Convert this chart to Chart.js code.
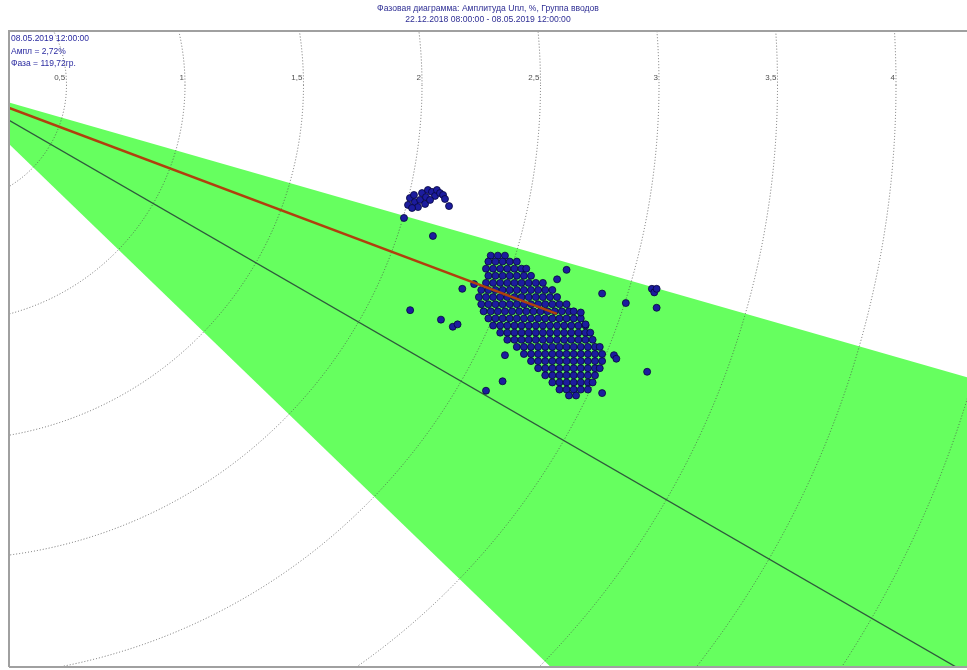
<!DOCTYPE html>
<html>
<head>
<meta charset="utf-8">
<title>Фазовая диаграмма</title>
<script src="https://cdn.jsdelivr.net/npm/chart.js@4.4.1/dist/chart.umd.min.js"></script>
<style>
  html, body { margin: 0; padding: 0; background: #fff; }
  #wrap { width: 967px; height: 670px; }
</style>
</head>
<body>
<div id="wrap"><canvas id="phaseChart" width="967" height="670"></canvas></div>
<script>
// Заголовок и подписи
const titleLines = ['Фазовая диаграмма: Амплитуда Uпл, %, Группа вводов', '22.12.2018 08:00:00 - 08.05.2019 12:00:00'];
const infoLines = ['08.05.2019 12:00:00', 'Ампл = 2,72%', 'Фаза = 119,72гр.'];

// Окружности сетки (амплитуда, %) и подписи к ним
const gridRadii = [0.5, 1, 1.5, 2, 2.5, 3, 3.5, 4, 4.5];
const gridLabels = ['0,5', '1', '1,5', '2', '2,5', '3', '3,5', '4'];

// Допустимый сектор и опорная фаза (градусы)
const sectorPhase = [106, 134];
const refPhase = 120;

// Вектор (красная линия)
const vectorAmp = 2.745;
const vectorPhase = 110.6;

// Основное облако точек: [Im, [Re ...]]
const clusterRows = [
  [-0.72, [2.29, 2.32, 2.35]],
  [-0.745, [2.28, 2.31, 2.34, 2.37, 2.40]],
  [-0.775, [2.27, 2.30, 2.33, 2.36, 2.39, 2.42, 2.44]],
  [-0.805, [2.28, 2.31, 2.34, 2.37, 2.40, 2.43, 2.46]],
  [-0.835, [2.27, 2.30, 2.33, 2.36, 2.39, 2.42, 2.45, 2.48, 2.51]],
  [-0.865, [2.25, 2.28, 2.31, 2.34, 2.37, 2.40, 2.43, 2.46, 2.49, 2.52, 2.55]],
  [-0.895, [2.24, 2.27, 2.30, 2.33, 2.36, 2.39, 2.42, 2.45, 2.48, 2.51, 2.54, 2.57]],
  [-0.925, [2.25, 2.28, 2.31, 2.34, 2.37, 2.40, 2.43, 2.46, 2.49, 2.52, 2.55, 2.58, 2.61]],
  [-0.955, [2.26, 2.29, 2.32, 2.35, 2.38, 2.41, 2.44, 2.47, 2.50, 2.53, 2.56, 2.59, 2.62, 2.64]],
  [-0.985, [2.28, 2.31, 2.34, 2.37, 2.40, 2.43, 2.46, 2.49, 2.52, 2.55, 2.58, 2.61, 2.64, 2.67]],
  [-1.015, [2.30, 2.33, 2.36, 2.39, 2.42, 2.45, 2.48, 2.51, 2.54, 2.57, 2.60, 2.63, 2.66, 2.69]],
  [-1.045, [2.33, 2.36, 2.39, 2.42, 2.45, 2.48, 2.51, 2.54, 2.57, 2.60, 2.63, 2.66, 2.69, 2.71]],
  [-1.075, [2.36, 2.39, 2.42, 2.45, 2.48, 2.51, 2.54, 2.57, 2.60, 2.63, 2.66, 2.69, 2.72]],
  [-1.105, [2.40, 2.43, 2.46, 2.49, 2.52, 2.55, 2.58, 2.61, 2.64, 2.67, 2.70, 2.73, 2.75]],
  [-1.135, [2.43, 2.46, 2.49, 2.52, 2.55, 2.58, 2.61, 2.64, 2.67, 2.70, 2.73, 2.76]],
  [-1.165, [2.46, 2.49, 2.52, 2.55, 2.58, 2.61, 2.64, 2.67, 2.70, 2.73, 2.76]],
  [-1.195, [2.49, 2.52, 2.55, 2.58, 2.61, 2.64, 2.67, 2.70, 2.73, 2.75]],
  [-1.225, [2.52, 2.55, 2.58, 2.61, 2.64, 2.67, 2.70, 2.73]],
  [-1.255, [2.55, 2.58, 2.61, 2.64, 2.67, 2.70, 2.72]],
  [-1.285, [2.58, 2.61, 2.64, 2.67, 2.70]],
  [-1.31, [2.62, 2.65]]
];

// Верхняя группа точек [Re, Im]
const upperGroup = [
  [1.941, -0.506], [1.949, -0.477], [1.970, -0.494], [1.966, -0.464], [1.992, -0.485],
  [2.000, -0.456], [2.017, -0.473], [2.025, -0.443], [2.042, -0.451], [2.055, -0.468],
  [2.063, -0.443], [2.076, -0.456], [2.089, -0.464], [1.983, -0.515], [2.013, -0.502],
  [2.034, -0.485], [1.958, -0.519], [2.097, -0.481], [2.114, -0.511], [1.924, -0.561],
  [2.046, -0.637]
];

// Одиночные точки [Re, Im]
const strayPoints = [
  [2.17, -0.86], [2.22, -0.84], [2.13, -1.02], [2.15, -1.01], [2.08, -0.99], [1.95, -0.95],
  [2.61, -0.78], [2.57, -0.82], [2.76, -0.88], [2.86, -0.92], [2.97, -0.86], [2.98, -0.875],
  [2.99, -0.86], [2.99, -0.94], [2.95, -1.21], [2.67, -0.96], [2.69, -1.01], [2.81, -1.14],
  [2.82, -1.155], [2.34, -1.25], [2.27, -1.29], [2.35, -1.14], [2.76, -1.30]
];

// Геометрия: центр диаграммы в пикселях и масштаб
const CENTER_PX = { x: -52, y: 85 };
const PX_PER_UNIT = 237;
const AREA = { left: 9, top: 31, right: 967, bottom: 667 };

// фаза отсчитывается по часовой стрелке от вертикали
function polarToXY(amp, phase) {
  const a = (90 - phase) * Math.PI / 180;
  return { x: amp * Math.cos(a), y: amp * Math.sin(a) };
}

const scatterData = [];
clusterRows.forEach(([im, reList]) => reList.forEach(re => scatterData.push({ x: re, y: im })));
upperGroup.forEach(([re, im]) => scatterData.push({ x: re, y: im }));
strayPoints.forEach(([re, im]) => scatterData.push({ x: re, y: im }));

const FAR = 8;
const sectorData = [{ x: 0, y: 0 }, polarToXY(FAR, sectorPhase[0]), polarToXY(FAR, sectorPhase[1])];
const refLineData = [{ x: 0, y: 0 }, polarToXY(FAR, refPhase)];
const vectorData = [{ x: 0, y: 0 }, polarToXY(vectorAmp, vectorPhase)];

const FONT = 'Liberation Sans, Arial, sans-serif';

// Сетка, рамка и подписи
const polarGrid = {
  id: 'polarGrid',
  afterDatasetDraw(chart, args) {
    if (args.index !== 0) return; // сразу после заливки сектора
    const { ctx, chartArea, scales: { x, y } } = chart;
    const cx = x.getPixelForValue(0);
    const cy = y.getPixelForValue(0);
    ctx.save();
    ctx.beginPath();
    ctx.rect(chartArea.left, chartArea.top, chartArea.right - chartArea.left, chartArea.bottom - chartArea.top);
    ctx.clip();
    ctx.strokeStyle = 'rgba(70,70,70,0.75)';
    ctx.lineWidth = 1;
    ctx.setLineDash([1, 2]);
    gridRadii.forEach(r => {
      const rad = Math.abs(x.getPixelForValue(r) - cx);
      ctx.beginPath();
      ctx.arc(cx, cy, rad, 0, Math.PI * 2);
      ctx.stroke();
    });
    ctx.restore();
  },
  afterDraw(chart) {
    const { ctx, chartArea, scales: { x, y } } = chart;
    ctx.save();
    // рамка
    ctx.strokeStyle = '#a0a0a0';
    ctx.lineWidth = 2;
    ctx.beginPath();
    ctx.moveTo(chartArea.left, chartArea.bottom);
    ctx.lineTo(chartArea.left, chartArea.top);
    ctx.lineTo(chartArea.right + 2, chartArea.top);
    ctx.moveTo(chartArea.left, chartArea.bottom);
    ctx.lineTo(chartArea.right + 2, chartArea.bottom);
    ctx.stroke();

    // подписи окружностей
    ctx.font = '8px ' + FONT;
    ctx.fillStyle = '#505050';
    ctx.textAlign = 'right';
    ctx.textBaseline = 'middle';
    const labelY = 78;
    const yv = y.getValueForPixel(labelY);
    gridLabels.forEach((txt, i) => {
      const r = gridRadii[i];
      const xv = Math.sqrt(r * r - yv * yv);
      ctx.fillText(txt, x.getPixelForValue(xv) - 1, labelY);
    });

    // информация о последнем замере
    ctx.font = '8.5px ' + FONT;
    ctx.fillStyle = '#2a2aa0';
    ctx.textAlign = 'left';
    infoLines.forEach((txt, i) => ctx.fillText(txt, chartArea.left + 2, 39 + i * 12.5));
    ctx.restore();
  }
};

const xMin = (AREA.left - CENTER_PX.x) / PX_PER_UNIT;
const xMax = (AREA.right - CENTER_PX.x) / PX_PER_UNIT;
const yMax = (CENTER_PX.y - AREA.top) / PX_PER_UNIT;
const yMin = (CENTER_PX.y - AREA.bottom) / PX_PER_UNIT;

new Chart(document.getElementById('phaseChart'), {
  type: 'scatter',
  data: {
    datasets: [
      {
        label: 'sector',
        data: sectorData,
        showLine: true,
        fill: 'shape',
        backgroundColor: '#66ff5f',
        borderWidth: 0,
        pointRadius: 0,
        order: 10
      },
      {
        label: 'ref',
        data: refLineData,
        showLine: true,
        borderColor: '#2f5a3c',
        borderWidth: 1.3,
        pointRadius: 0,
        order: 8
      },
      {
        label: 'points',
        data: scatterData,
        backgroundColor: '#1c1c9e',
        borderColor: '#06063c',
        borderWidth: 0.8,
        pointRadius: 3.5,
        order: 3
      },
      {
        label: 'vector',
        data: vectorData,
        showLine: true,
        borderColor: '#b0400e',
        borderWidth: 2.5,
        pointRadius: 0,
        order: 1
      }
    ]
  },
  options: {
    responsive: false,
    devicePixelRatio: 1,
    animation: false,
    events: [],
    layout: {
      autoPadding: false,
      padding: { left: AREA.left, right: 0, top: 0, bottom: 670 - AREA.bottom }
    },
    scales: {
      x: { type: 'linear', min: xMin, max: xMax, display: false },
      y: { type: 'linear', min: yMin, max: yMax, display: false }
    },
    plugins: {
      legend: { display: false },
      tooltip: { enabled: false },
      title: {
        display: true,
        text: titleLines,
        color: '#2e2e94',
        font: { family: FONT, size: 8.6, weight: 'normal', lineHeight: 1.25 },
        padding: { top: 3, bottom: 6.5 }
      }
    }
  },
  plugins: [polarGrid]
});
</script>
</body>
</html>
